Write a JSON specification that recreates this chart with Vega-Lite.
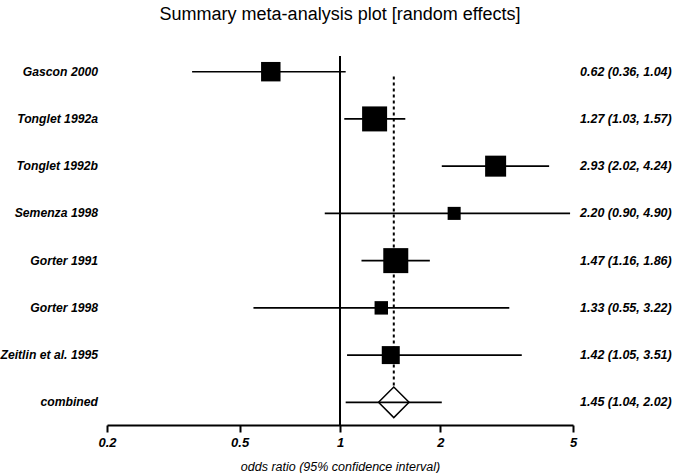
{
  "$schema": "https://vega.github.io/schema/vega-lite/v6.json",
  "autosize": {"type": "none"},
  "width": 466,
  "height": 369,
  "padding": {"left": 107, "top": 56, "right": 102, "bottom": 48},
  "background": "white",
  "title": {
    "text": "Summary meta-analysis plot [random effects]",
    "font": "Liberation Sans",
    "fontSize": 18,
    "fontWeight": "normal",
    "color": "black",
    "anchor": "middle",
    "offset": 31
  },
  "config": {
    "view": {"stroke": null},
    "font": "Liberation Sans"
  },
  "datasets": {
    "studies": [
      {"study": "Gascon 2000", "row": 1, "or": 0.62, "lo": 0.36, "hi": 1.04, "weight": 13.8, "type": "study", "ci": "0.62 (0.36, 1.04)"},
      {"study": "Tonglet 1992a", "row": 2, "or": 1.27, "lo": 1.03, "hi": 1.57, "weight": 22.8, "type": "study", "ci": "1.27 (1.03, 1.57)"},
      {"study": "Tonglet 1992b", "row": 3, "or": 2.93, "lo": 2.02, "hi": 4.24, "weight": 16.1, "type": "study", "ci": "2.93 (2.02, 4.24)"},
      {"study": "Semenza 1998", "row": 4, "or": 2.20, "lo": 0.90, "hi": 4.90, "weight": 6.2, "type": "study", "ci": "2.20 (0.90, 4.90)"},
      {"study": "Gorter 1991", "row": 5, "or": 1.47, "lo": 1.16, "hi": 1.86, "weight": 22.8, "type": "study", "ci": "1.47 (1.16, 1.86)"},
      {"study": "Gorter 1998", "row": 6, "or": 1.33, "lo": 0.55, "hi": 3.22, "weight": 6.6, "type": "study", "ci": "1.33 (0.55, 3.22)"},
      {"study": "Zeitlin et al. 1995", "row": 7, "or": 1.42, "lo": 1.05, "hi": 3.51, "weight": 11.8, "type": "study", "ci": "1.42 (1.05, 3.51)"},
      {"study": "combined", "row": 8, "or": 1.45, "lo": 1.04, "hi": 2.02, "weight": 0, "type": "combined", "ci": "1.45 (1.04, 2.02)"}
    ],
    "nullline": [{"ref": 1}],
    "pooled": [{"ref": 1.45, "from": 1.1, "to": 7.67}]
  },
  "layer": [
    {
      "data": {"name": "nullline"},
      "mark": {"type": "rule", "color": "black", "strokeWidth": 2},
      "encoding": {
        "x": {"field": "ref", "type": "quantitative"}
      }
    },
    {
      "data": {"name": "pooled"},
      "mark": {"type": "rule", "color": "black", "strokeWidth": 2, "strokeDash": [3, 3]},
      "encoding": {
        "x": {"field": "ref", "type": "quantitative"},
        "y": {"field": "from", "type": "quantitative"},
        "y2": {"field": "to"}
      }
    },
    {
      "data": {"name": "studies"},
      "mark": {"type": "rule", "color": "black", "strokeWidth": 1.6},
      "encoding": {
        "x": {"field": "lo", "type": "quantitative"},
        "x2": {"field": "hi"},
        "y": {"field": "row", "type": "quantitative"}
      }
    },
    {
      "data": {"name": "studies"},
      "transform": [{"filter": "datum.type == 'study'"}],
      "mark": {"type": "point", "shape": "square", "filled": true, "color": "black", "opacity": 1},
      "encoding": {
        "x": {"field": "or", "type": "quantitative"},
        "y": {"field": "row", "type": "quantitative"},
        "size": {"field": "weight", "type": "quantitative", "scale": {"type": "linear", "domain": [0, 22.8], "range": [0, 625], "zero": true}, "legend": null}
      }
    },
    {
      "data": {"name": "studies"},
      "transform": [{"filter": "datum.type == 'combined'"}],
      "mark": {"type": "point", "shape": "diamond", "filled": false, "color": "black", "strokeWidth": 1.5, "size": 930, "opacity": 1},
      "encoding": {
        "x": {"field": "or", "type": "quantitative"},
        "y": {"field": "row", "type": "quantitative"}
      }
    },
    {
      "data": {"name": "studies"},
      "mark": {"type": "text", "align": "right", "baseline": "middle", "dx": -9, "fontSize": 12.2, "fontStyle": "italic", "fontWeight": "bold", "color": "black", "font": "Liberation Sans"},
      "encoding": {
        "x": {"datum": 0.2, "type": "quantitative"},
        "y": {"field": "row", "type": "quantitative"},
        "text": {"field": "study"}
      }
    },
    {
      "data": {"name": "studies"},
      "mark": {"type": "text", "align": "left", "baseline": "middle", "dx": 7, "fontSize": 12.5, "fontStyle": "italic", "fontWeight": "bold", "color": "black", "font": "Liberation Sans"},
      "encoding": {
        "x": {"datum": 5, "type": "quantitative"},
        "y": {"field": "row", "type": "quantitative"},
        "text": {"field": "ci"}
      }
    }
  ],
  "encoding": {
    "x": {
      "type": "quantitative",
      "scale": {"type": "log", "domain": [0.2, 5], "nice": false},
      "axis": {
        "title": "odds ratio (95% confidence interval)",
        "values": [0.2, 0.5, 1, 2, 5],
        "format": "~g",
        "grid": false,
        "labelFlush": false,
        "domainColor": "black",
        "domainWidth": 2,
        "tickColor": "black",
        "tickWidth": 2,
        "tickSize": 7,
        "labelColor": "black",
        "labelFont": "Liberation Sans",
        "labelFontSize": 13,
        "labelFontStyle": "italic",
        "labelFontWeight": "bold",
        "labelPadding": 4,
        "titleColor": "black",
        "titleFont": "Liberation Sans",
        "titleFontSize": 12.5,
        "titleFontStyle": "italic",
        "titleFontWeight": "normal",
        "titlePadding": 11
      }
    },
    "y": {
      "type": "quantitative",
      "scale": {"domain": [0.668, 8.48], "reverse": true, "nice": false, "zero": false},
      "axis": null
    }
  }
}
